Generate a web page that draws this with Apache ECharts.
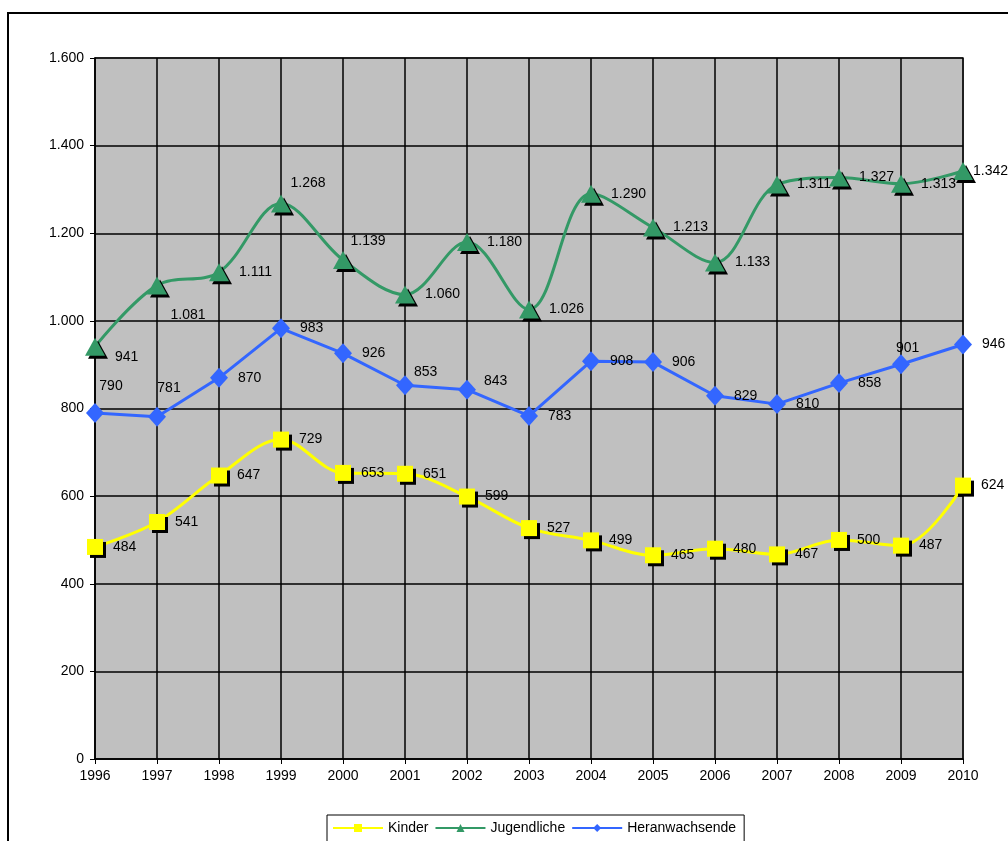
<!DOCTYPE html>
<html>
<head>
<meta charset="utf-8">
<script src="https://cdn.jsdelivr.net/npm/echarts@6/dist/echarts.min.js"></script>
<style>
html,body{margin:0;padding:0;background:#fff;}
#c{width:1008px;height:841px;}
</style>
</head>
<body>
<div id="c"></div>
<script>
const years = ['1996','1997','1998','1999','2000','2001','2002','2003','2004','2005','2006','2007','2008','2009','2010'];
const kinder = [484,541,647,729,653,651,599,527,499,465,480,467,500,487,624];
const jugendliche = [941,1081,1111,1268,1139,1060,1180,1026,1290,1213,1133,1311,1327,1313,1342];
const heranwachsende = [790,781,870,983,926,853,843,783,908,906,829,810,858,901,946];
const yTicks = [0,200,400,600,800,1000,1200,1400,1600];

// per-point label placement tweaks (index -> [position, offset])
const jugLabelTweaks = {0:['right',[0,10]],1:['bottom',[31,4]],3:['top',[27,6]],4:['top',[25,7]],14:['right',[-10,0]]};
const herLabelTweaks = {0:['top',[16,0]],1:['top',[12,-2]],5:['right',[-10,-13]],6:['right',[-2,-9]],13:['right',[-24,-16]]};

function fmt(v){return String(v).replace(/\B(?=(\d{3})+(?!\d))/g,'.');}

function buildData(values, tweaks){
  return values.map((v,i)=>{
    const t = tweaks && tweaks[i];
    if(!t) return v;
    return {value:v,label:{position:t[0],offset:t[1]}};
  });
}

const FONT = 'Liberation Sans, Arial, sans-serif';
const labelBase = {show:true,position:'right',distance:10,color:'#000',fontFamily:FONT,fontSize:14,formatter:p=>fmt(p.value)};
const shadow = {shadowColor:'#000',shadowOffsetX:3,shadowOffsetY:3,shadowBlur:0};

const chart = echarts.init(document.getElementById('c'));
chart.setOption({
  animation:false,
  backgroundColor:'#fff',
  graphic:[{type:'rect',shape:{x:8,y:13,width:1100,height:900},style:{fill:'none',stroke:'#000',lineWidth:2},z:-1}],
  grid:{left:95,right:45,top:58,bottom:82,show:true,backgroundColor:'#C0C0C0',borderColor:'#808080',borderWidth:2},
  legend:{
    left:327,top:815,
    borderColor:'#000',borderWidth:1,padding:[6,8,20,5],
    itemWidth:50,itemHeight:10,itemGap:6,
    textStyle:{fontFamily:FONT,fontSize:14,color:'#000'},
    data:['Kinder','Jugendliche','Heranwachsende']
  },
  xAxis:{
    type:'category',data:years,boundaryGap:false,
    axisLine:{lineStyle:{color:'#000',width:1.5}},
    axisTick:{show:true,alignWithLabel:true,length:5,lineStyle:{color:'#000'}},
    axisLabel:{color:'#000',fontFamily:FONT,fontSize:14,margin:10},
    splitLine:{show:true,lineStyle:{color:'#000',width:1.5}}
  },
  yAxis:{
    type:'value',min:yTicks[0],max:yTicks[yTicks.length-1],interval:200,
    axisLine:{show:true,lineStyle:{color:'#000',width:1.5}},
    axisTick:{show:true,length:5,lineStyle:{color:'#000'}},
    axisLabel:{color:'#000',fontFamily:FONT,fontSize:14,margin:11,formatter:v=>fmt(v)},
    splitLine:{show:true,lineStyle:{color:'#000',width:1.5}}
  },
  series:[
    {name:'Kinder',type:'line',smooth:0.35,data:buildData(kinder),
      symbol:'rect',symbolSize:16,
      lineStyle:{color:'#FFFF00',width:3},
      itemStyle:Object.assign({color:'#FFFF00'},shadow),
      label:labelBase,z:3},
    {name:'Jugendliche',type:'line',smooth:0.35,data:buildData(jugendliche,jugLabelTweaks),
      symbol:'triangle',symbolSize:[20,18],
      lineStyle:{color:'#339966',width:3},
      itemStyle:Object.assign({color:'#339966'},shadow),
      label:labelBase,z:3},
    {name:'Heranwachsende',type:'line',smooth:false,data:buildData(heranwachsende,herLabelTweaks),
      symbol:'diamond',symbolSize:[18,20],
      lineStyle:{color:'#3366FF',width:3},
      itemStyle:{color:'#3366FF'},
      label:labelBase,z:3}
  ]
});
</script>
</body>
</html>
